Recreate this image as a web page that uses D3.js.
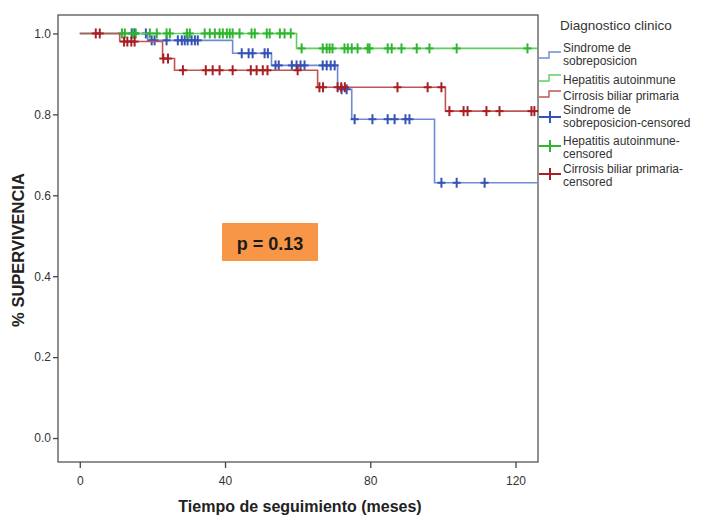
<!DOCTYPE html>
<html><head><meta charset="utf-8">
<script src="https://cdn.jsdelivr.net/npm/d3@7"></script>
<style>html,body{margin:0;padding:0;background:#fff}svg{display:block}</style>
</head><body>
<svg id="c" width="706" height="519"></svg>
<script>
// ---- data ----
const xTicks = [0, 40, 80, 120];
const yTicks = [0.0, 0.2, 0.4, 0.6, 0.8, 1.0];
const seriesNames = ["Sindrome de sobreposicion", "Hepatitis autoinmune", "Cirrosis biliar primaria"];

const sobreTimes = [0, 18.7, 42.1, 52.8, 71.0, 74.9, 97.7, 126];
const sobreSurv  = [1.0, 0.983, 0.951, 0.921, 0.862, 0.788, 0.631, 0.631];
const sobreCensor = [14.3, 15.1, 18.2, 19.8, 20.6, 23.9, 27.0, 28.1, 28.9, 29.7, 30.8, 31.7, 32.5,
  44.6, 46.5, 47.6, 50.9, 51.8, 53.9, 54.8, 58.4, 59.7, 60.8, 61.9, 66.9, 68.0, 69.1, 70.2,
  72.1, 73.5, 75.7, 80.6, 84.8, 86.7, 89.7, 90.8, 99.6, 103.8, 111.5];

const hepaTimes = [0, 59.7, 126];
const hepaSurv  = [1.0, 0.963, 0.963];
const hepaCensor = [11.6, 12.4, 14.6, 15.4, 19.3, 21.2, 23.9, 24.8, 29.5, 30.3, 34.4, 35.8, 37.2,
  38.5, 39.4, 40.5, 41.3, 42.1, 44.0, 47.3, 48.2, 51.5, 52.3, 55.1, 56.4, 58.1,
  61.1, 66.9, 68.0, 68.8, 69.6, 72.9, 73.8, 74.9, 76.5, 79.3, 79.8, 84.8, 85.9, 88.6, 92.8, 96.3, 103.8, 123.3];

const cirrTimes = [0, 11.0, 22.8, 26.1, 65.5, 100.7, 126];
const cirrSurv  = [1.0, 0.980, 0.938, 0.909, 0.867, 0.808, 0.808];
const cirrCensor = [4.4, 5.5, 12.2, 13.1, 14.2, 15.1, 23.0, 24.3, 28.4, 34.7, 36.6, 38.5, 42.1,
  47.1, 48.7, 50.4, 51.7, 60.0, 66.0, 67.0, 71.0, 72.0, 73.0, 87.5, 95.8, 99.6,
  101.8, 105.7, 106.8, 112.0, 115.6, 124.4, 125.2];

const pText = "p = 0.13";

// ---- styles ----
const lineColors = ["#6f8bd6", "#5fcf5f", "#bf5555"];
const markColors = ["#3552b6", "#2fb52f", "#a81e22"];

const svg = d3.select("#c");
const L = 58, R = 538, T = 15, B = 462;
const x = d3.scaleLinear().domain([-6, 126.2]).range([L, R]);
const y = d3.scaleLinear().domain([-0.0592, 1.0456]).range([B, T]);

const font = "'Liberation Sans', Arial, sans-serif";

// frame
svg.append("rect").attr("x", L).attr("y", T).attr("width", R - L).attr("height", B - T)
  .attr("fill", "#fff").attr("stroke", "#555").attr("stroke-width", 1.3);

// axes
const yAxis = svg.append("g").attr("transform", `translate(${L},0)`)
  .call(d3.axisLeft(y).tickValues(yTicks).tickFormat(d3.format(".1f")).tickSize(5).tickPadding(2));
const xAxis = svg.append("g").attr("transform", `translate(0,${B})`)
  .call(d3.axisBottom(x).tickValues(xTicks).tickFormat(d3.format("d")).tickSize(6).tickPadding(8));
[yAxis, xAxis].forEach(g => {
  g.select(".domain").remove();
  g.selectAll("line").attr("stroke", "#444").attr("stroke-width", 1.3);
  g.selectAll("text").attr("fill", "#333").style("font-family", font).style("font-size", "12px");
});

// series
const series = [
  {t: sobreTimes, s: sobreSurv, c: sobreCensor},
  {t: hepaTimes, s: hepaSurv, c: hepaCensor},
  {t: cirrTimes, s: cirrSurv, c: cirrCensor}
];
const stepLine = d3.line().x(d => x(d[0])).y(d => y(d[1])).curve(d3.curveStepAfter);
function survAt(sr, tt) {
  let v = sr.s[0];
  for (let i = 0; i < sr.t.length; i++) if (sr.t[i] <= tt) v = sr.s[i];
  return v;
}
series.forEach((sr, i) => {
  const pts = sr.t.map((t, k) => [t, sr.s[k]]);
  svg.append("path").attr("d", stepLine(pts)).attr("fill", "none")
    .attr("stroke", lineColors[i]).attr("stroke-width", 1.6);
  const g = svg.append("g").attr("stroke", markColors[i]).attr("stroke-width", 2);
  sr.c.forEach(t => {
    const cx = x(t), cy = y(survAt(sr, t));
    g.append("line").attr("x1", cx).attr("x2", cx).attr("y1", cy - 5).attr("y2", cy + 5);
    g.append("line").attr("x1", cx - 4).attr("x2", cx + 4).attr("y1", cy).attr("y2", cy);
  });
});

// p-value box
svg.append("rect").attr("x", 222).attr("y", 223).attr("width", 96).attr("height", 38).attr("fill", "#f79646");
svg.append("text").attr("x", 270).attr("y", 250).attr("text-anchor", "middle")
  .style("font-family", font).style("font-size", "18px").style("font-weight", "bold")
  .attr("fill", "#1a1a1a").text(pText);

// axis titles
svg.append("text").attr("x", 300).attr("y", 512).attr("text-anchor", "middle")
  .style("font-family", font).style("font-size", "16px").style("font-weight", "bold")
  .attr("fill", "#222").text("Tiempo de seguimiento (meses)");
svg.append("text").attr("transform", "translate(24,250) rotate(-90)").attr("text-anchor", "middle")
  .style("font-family", font).style("font-size", "16.5px").style("font-weight", "bold")
  .attr("fill", "#222").text("% SUPERVIVENCIA");

// legend
const lg = svg.append("g").style("font-family", font).attr("fill", "#333");
lg.append("text").attr("x", 560).attr("y", 30).style("font-size", "13.5px").text("Diagnostico clinico");
const legendItems = [
  {lines: ["Sindrome de", "sobreposicion"], ty: 52, type: "step", sy: 58, k: 0},
  {lines: ["Hepatitis autoinmune"], ty: 84, type: "step", sy: 81, k: 1},
  {lines: ["Cirrosis biliar primaria"], ty: 100, type: "step", sy: 97, k: 2},
  {lines: ["Sindrome de", "sobreposicion-censored"], ty: 114, type: "cross", sy: 117, k: 0},
  {lines: ["Hepatitis autoinmune-", "censored"], ty: 145, type: "cross", sy: 146, k: 1},
  {lines: ["Cirrosis biliar primaria-", "censored"], ty: 173, type: "cross", sy: 174, k: 2}
];
legendItems.forEach(it => {
  it.lines.forEach((s, j) => {
    lg.append("text").attr("x", 563).attr("y", it.ty + j * 13).style("font-size", "12px").text(s);
  });
  if (it.type === "step") {
    lg.append("path").attr("d", `M539,${it.sy}H549V${it.sy - 6}H561`).attr("fill", "none")
      .attr("stroke", lineColors[it.k]).attr("stroke-width", 1.4);
  } else {
    const g = lg.append("g").attr("stroke", markColors[it.k]).attr("stroke-width", 2);
    g.append("line").attr("x1", 539).attr("x2", 561).attr("y1", it.sy).attr("y2", it.sy);
    g.append("line").attr("x1", 550).attr("x2", 550).attr("y1", it.sy - 6).attr("y2", it.sy + 6);
  }
});
</script>
</body></html>
